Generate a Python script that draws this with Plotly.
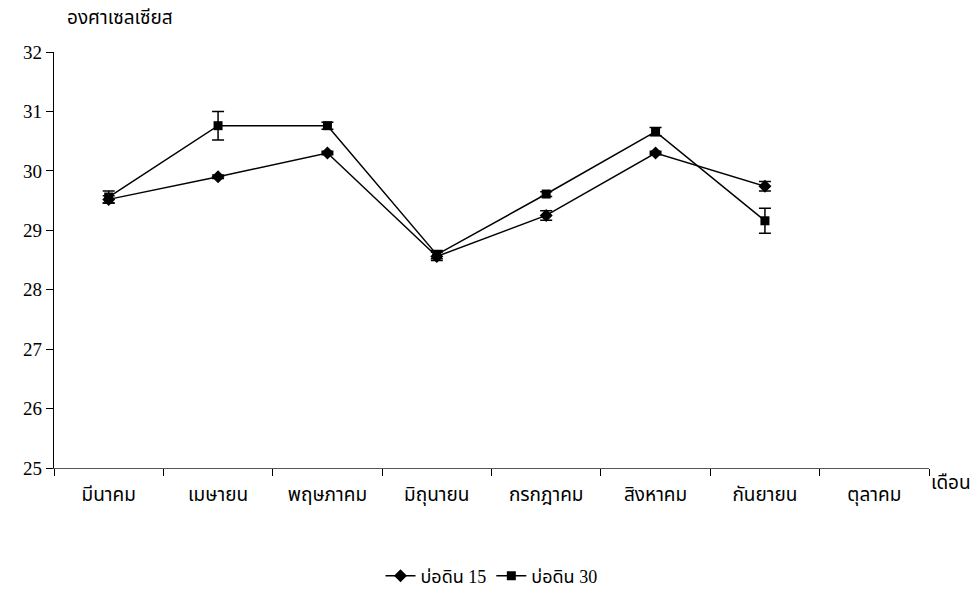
import plotly.graph_objects as go

months = ["มีนาคม", "เมษายน", "พฤษภาคม", "มิถุนายน", "กรกฎาคม", "สิงหาคม", "กันยายน", "ตุลาคม"]

pond15 = [29.52, 29.90, 30.30, 28.56, 29.25, 30.30, 29.74]
pond15_err = [0.06, 0.03, 0.03, 0.07, 0.08, 0.03, 0.08]

pond30 = [29.56, 30.76, 30.76, 28.59, 29.61, 30.66, 29.16]
pond30_err = [0.10, 0.24, 0.06, 0.07, 0.04, 0.07, 0.21]

FONT = "Liberation Serif, Noto Sans Thai, Loma, Garuda, serif"

fig = go.Figure()
fig.add_trace(go.Scatter(
    x=months[:len(pond15)], y=pond15, name="บ่อดิน 15", mode="lines+markers",
    line=dict(color="black", width=1.5),
    marker=dict(symbol="diamond", size=10, color="black"),
    error_y=dict(type="data", array=pond15_err, color="black", thickness=1.5, width=6),
))
fig.add_trace(go.Scatter(
    x=months[:len(pond30)], y=pond30, name="บ่อดิน 30", mode="lines+markers",
    line=dict(color="black", width=1.5),
    marker=dict(symbol="square", size=9, color="black"),
    error_y=dict(type="data", array=pond30_err, color="black", thickness=1.5, width=6),
))

fig.update_layout(
    width=975, height=612,
    margin=dict(l=54, r=46, t=52, b=144),
    paper_bgcolor="white", plot_bgcolor="white",
    font=dict(family=FONT, size=19, color="black"),
    showlegend=True,
    legend=dict(orientation="h", x=0.5, xanchor="center", y=-0.215, yanchor="top",
                font=dict(size=18), itemwidth=30, tracegroupgap=0),
)
fig.update_xaxes(
    type="category", categoryorder="array", categoryarray=months,
    range=[-0.5, len(months) - 0.5],
    showline=True, linecolor="#555", linewidth=1.2,
    ticks="outside", tickson="boundaries", ticklen=7, tickcolor="black", tickwidth=1,
    ticklabelstandoff=9, showgrid=False, zeroline=False,
    tickfont=dict(family=FONT, size=19),
)
fig.update_yaxes(
    range=[25, 32], dtick=1,
    showline=True, linecolor="black", linewidth=1.2,
    ticks="outside", ticklen=7, tickcolor="black", tickwidth=1,
    showgrid=False, zeroline=False,
    tickfont=dict(family=FONT, size=19),
)
fig.add_annotation(text="องศาเซลเซียส", xref="paper", yref="paper", x=0.012, y=1.0,
                   xanchor="left", yanchor="bottom", yshift=22, showarrow=False,
                   font=dict(family=FONT, size=19))
fig.add_annotation(text="เดือน", xref="paper", yref="paper", x=1.0, y=0.0,
                   xanchor="left", yanchor="top", xshift=0, yshift=-2, showarrow=False,
                   font=dict(family=FONT, size=19))

fig.write_html("out.html")
